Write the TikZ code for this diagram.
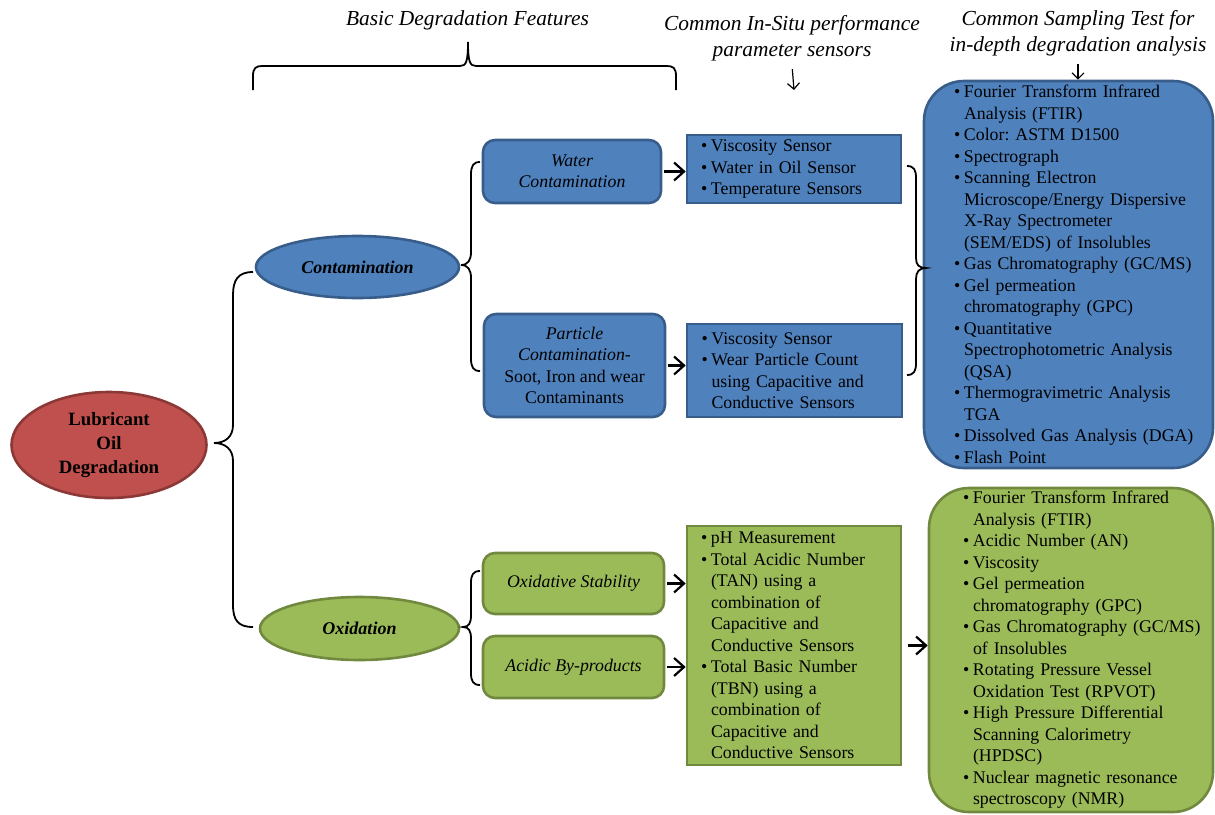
\documentclass[tikz,border=0pt]{standalone}
\usepackage{graphicx}
\usepackage{fontspec}
\setmainfont{Liberation Serif}
\usetikzlibrary{shapes.geometric, arrows.meta, positioning}
\frenchspacing
\definecolor{blueF}{HTML}{4F81BD}
\definecolor{blueL}{HTML}{385D8A}
\definecolor{greenF}{HTML}{9BBB59}
\definecolor{greenL}{HTML}{71893F}
\definecolor{redF}{HTML}{C0504D}
\definecolor{redL}{HTML}{8C3836}
% bullet line and continuation line
\newcommand{\itm}[1]{\makebox[5pt][l]{\textbullet}\mbox{#1}}
\newcommand{\cnt}[1]{\hspace*{5pt}\mbox{#1}}
\tikzset{
  x=0.5pt, y=-0.5pt,
  % body text
  txt/.style={font=\fontsize{8.9}{10.75}\selectfont},
  % header labels
  hdr/.style={font=\fontsize{10.7}{13}\selectfont\itshape, align=center,
    inner sep=2pt},
  % root ellipse
  root/.style={ellipse, draw=redL, fill=redF, line width=1.3pt, inner sep=0pt,
    align=center, font=\fontsize{9.4}{12}\selectfont\bfseries},
  % category ellipse
  cat/.style={ellipse, line width=1.3pt, inner sep=0pt,
    font=\fontsize{9}{11}\selectfont\bfseries\itshape},
  % feature box
  feat/.style={txt, rectangle, rounded corners=6pt, line width=1.3pt,
    inner sep=0pt, align=center},
  % sensor box
  sens/.style={txt, rectangle, line width=1.3pt, inner xsep=7pt,
    inner ysep=0pt, text width=93pt, align=left},
  % sampling test box
  test/.style={txt, rectangle, rounded corners=20pt, line width=1.3pt,
    inner ysep=0pt, align=left},
  blu/.style={draw=blueL, fill=blueF},
  grn/.style={draw=greenL, fill=greenF},
  % braces and arrows
  brc/.style={line width=0.9pt},
  arr/.style={line width=1.1pt, shorten <=1pt,
    -{Straight Barb[length=5pt,width=9pt]}},
  harr/.style={line width=0.6pt, shorten <=2pt,
    -{Straight Barb[length=3pt,width=6pt]}},
}

\begin{document}
\begin{tikzpicture}
  \useasboundingbox (0,0) rectangle (1215,814);

  % headers
  \node[hdr] (hbas) at (467.5,20) {Basic Degradation Features};
  \node[hdr] (hsen) at (792,38) {Common In-Situ performance\\parameter sensors};
  \node[hdr] (hsmp) at (1078,33) {Common Sampling Test for\\in-depth degradation analysis};
  \coordinate (hsenend) at (794,90);

  % ellipses
  \node[root, minimum width=97.5pt, minimum height=53pt] (lub) at (109,445)
    {Lubricant\\Oil\\Degradation};
  \node[cat, blu, minimum width=101.5pt, minimum height=31pt] (con) at (357.5,267)
    {Contamination};
  \node[cat, grn, minimum width=99.5pt, minimum height=31.5pt] (oxi) at (359.5,628.5)
    {Oxidation};

  % features
  \node[feat, blu, minimum width=89pt, minimum height=31.5pt] (wat) at (572,171.5)
    {\textit{Water}\\\textit{Contamination}};
  \node[feat, blu, minimum width=90.5pt, minimum height=51.5pt] (par) at (574.5,365.5)
    {\textit{Particle}\\\textit{Contamination-}\\Soot, Iron and wear\\Contaminants};
  \node[feat, grn, minimum width=90.5pt, minimum height=30.5pt] (ost) at (573.5,583.5)
    {\textit{Oxidative Stability}};
  \node[feat, grn, minimum width=90.5pt, minimum height=31pt] (acb) at (573.5,667)
    {\textit{Acidic By-products}};

  % in-situ sensors
  \node[sens, blu, minimum width=107pt, minimum height=34pt] (sn1) at (794,169)
    {\itm{Viscosity Sensor}\\
     \itm{Water in Oil Sensor}\\
     \itm{Temperature Sensors}};
  \node[sens, blu, minimum width=107.5pt, minimum height=46.5pt] (sn2) at (794.5,370.5)
    {\itm{Viscosity Sensor}\\
     \itm{Wear Particle Count}\\
     \cnt{using Capacitive and}\\
     \cnt{Conductive Sensors}};
  \node[sens, grn, minimum width=107pt, minimum height=119.5pt] (sox) at (794,645.5)
    {\itm{pH Measurement}\\
     \itm{Total Acidic Number}\\
     \cnt{(TAN) using a}\\
     \cnt{combination of}\\
     \cnt{Capacitive and}\\
     \cnt{Conductive Sensors}\\
     \itm{Total Basic Number}\\
     \cnt{(TBN) using a}\\
     \cnt{combination of}\\
     \cnt{Capacitive and}\\
     \cnt{Conductive Sensors}};

  % sampling tests
  \node[test, blu, inner xsep=15pt, text width=114.5pt, minimum width=144.5pt,
    minimum height=193.5pt] (tbl) at (1068.5,274.5)
    {\itm{Fourier Transform Infrared}\\
     \cnt{Analysis (FTIR)}\\
     \itm{Color: ASTM D1500}\\
     \itm{Spectrograph}\\
     \itm{Scanning Electron}\\
     \cnt{Microscope/Energy Dispersive}\\
     \cnt{X-Ray Spectrometer}\\
     \cnt{(SEM/EDS) of Insolubles}\\
     \itm{Gas Chromatography (GC/MS)}\\
     \itm{Gel permeation}\\
     \cnt{chromatography (GPC)}\\
     \itm{Quantitative}\\
     \cnt{Spectrophotometric Analysis}\\
     \cnt{(QSA)}\\
     \itm{Thermogravimetric Analysis}\\
     \cnt{TGA}\\
     \itm{Dissolved Gas Analysis (DGA)}\\
     \itm{Flash Point}};
  \node[test, grn, inner xsep=17pt, text width=108pt, minimum width=142pt,
    minimum height=162pt] (tgr) at (1071,650)
    {\itm{Fourier Transform Infrared}\\
     \cnt{Analysis (FTIR)}\\
     \itm{Acidic Number (AN)}\\
     \itm{Viscosity}\\
     \itm{Gel permeation}\\
     \cnt{chromatography (GPC)}\\
     \itm{Gas Chromatography (GC/MS)}\\
     \cnt{of Insolubles}\\
     \itm{Rotating Pressure Vessel}\\
     \cnt{Oxidation Test (RPVOT)}\\
     \itm{High Pressure Differential}\\
     \cnt{Scanning Calorimetry}\\
     \cnt{(HPDSC)}\\
     \itm{Nuclear magnetic resonance}\\
     \cnt{spectroscopy (NMR)}};

  % braces
  \draw[brc] (253,90) -- (253,76) .. controls (253,68) and (256,66) .. (262,66)
    -- (460,66) .. controls (466,66) and (468,62) .. (468,42)
    .. controls (468,62) and (470,66) .. (476,66) -- (667,66)
    .. controls (673,66) and (676,68) .. (676,76) -- (676,90);
  \draw[brc] (253,272) .. controls (238,272) and (233,280) .. (233,295)
    -- (233,425) .. controls (233,437) and (225,443) .. (214,443)
    .. controls (225,443) and (233,449) .. (233,461) -- (233,605)
    .. controls (233,620) and (238,627) .. (253,627);
  \draw[brc] (480,162) .. controls (473,162) and (471,166) .. (471,175)
    -- (471,252) .. controls (471,260) and (468,265) .. (461,265)
    .. controls (468,265) and (471,270) .. (471,278) -- (471,358)
    .. controls (471,367) and (473,371) .. (480,371);
  \draw[brc] (480,571) .. controls (473,571) and (471,575) .. (471,583)
    -- (471,615) .. controls (471,623) and (469,627) .. (463,627)
    .. controls (469,627) and (471,631) .. (471,639) -- (471,673)
    .. controls (471,681) and (473,685) .. (480,685);
  \draw[brc] (907,166) .. controls (914,166) and (916,170) .. (916,178)
    -- (916,258) .. controls (916,265) and (919,268) .. (926,268)
    .. controls (919,268) and (916,272) .. (916,279) -- (916,363)
    .. controls (916,371) and (914,375) .. (907,375);

  % arrows
  \draw[harr] (hsen.south) -- (hsenend);
  \draw[harr] (hsmp.south) -- (hsmp.south |- tbl.north);
  \draw[arr] (wat) -- (wat -| sn1.west);
  \draw[arr] (par) -- (par -| sn2.west);
  \draw[arr] (ost) -- (ost -| sox.west);
  \draw[arr] (acb) -- (acb -| sox.west);
  \draw[arr, shorten <=3pt] (sox) -- (sox -| tgr.west);
\end{tikzpicture}
\end{document}
